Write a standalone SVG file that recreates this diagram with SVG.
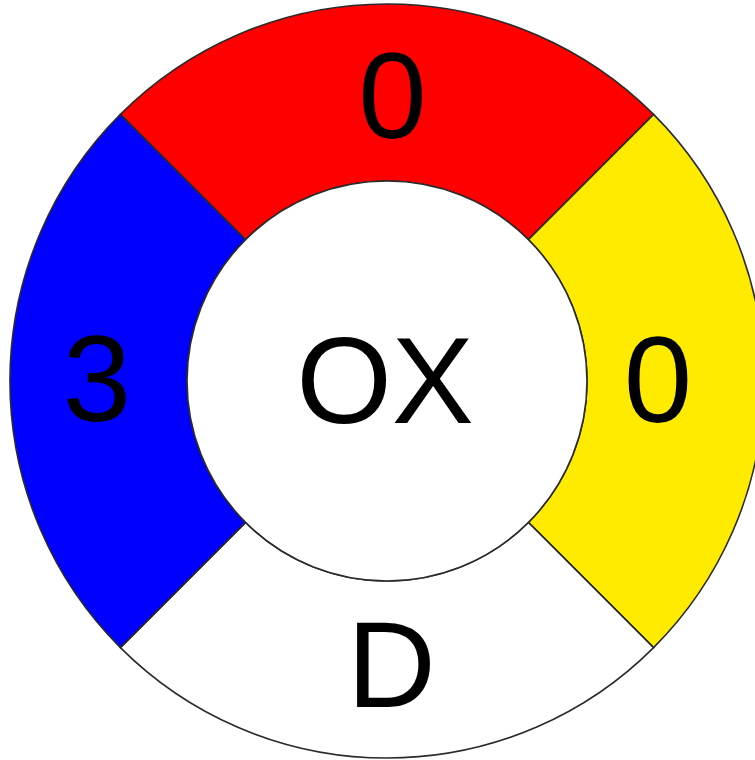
<svg xmlns="http://www.w3.org/2000/svg" width="755" height="760" viewBox="0 0 755 760">
<style>
.seg{stroke:#2a2a2a;stroke-width:1.6;stroke-linejoin:round}
.lbl{font-family:"Liberation Sans",Arial,sans-serif;font-size:123px;fill:#000;text-anchor:middle}
</style>
<rect x="0" y="0" width="755" height="760" fill="#ffffff"/>
<g id="top">
<path class="seg" fill="#FF0000" d="M120.4 114.4 A377 377 0 0 1 653.6 114.4 L528.4 239.6 A200 200 0 0 0 245.6 239.6 Z"/>
<text class="lbl" x="392.5" y="138">0</text>
</g>
<g id="right">
<path class="seg" fill="#FFEB00" d="M653.6 114.4 A377 377 0 0 1 653.6 647.6 L528.4 522.4 A200 200 0 0 0 528.4 239.6 Z"/>
<text class="lbl" x="658" y="422">0</text>
</g>
<g id="bottom">
<path class="seg" fill="#FFFFFF" d="M653.6 647.6 A377 377 0 0 1 120.4 647.6 L245.6 522.4 A200 200 0 0 0 528.4 522.4 Z"/>
<text class="lbl" x="391.5" y="707">D</text>
</g>
<g id="left">
<path class="seg" fill="#0000FF" d="M120.4 647.6 A377 377 0 0 1 120.4 114.4 L245.6 239.6 A200 200 0 0 0 245.6 522.4 Z"/>
<text class="lbl" x="97" y="421">3</text>
</g>
<g id="center">
<circle class="seg" fill="#FFFFFF" cx="387" cy="381" r="200"/>
<text class="lbl" x="385" y="423">OX</text>
</g>
<g id="connectors"></g>
</svg>
